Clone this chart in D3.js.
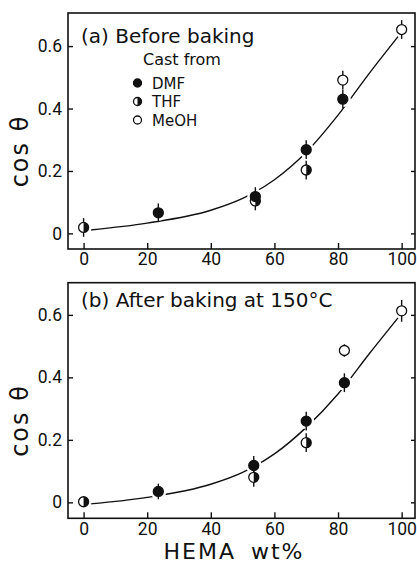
<!DOCTYPE html>
<html>
<head>
<meta charset="utf-8">
<script src="https://cdn.jsdelivr.net/npm/d3@7"></script>
<style>
  body { margin: 0; background: #fff; }
  text { fill: #111; }
</style>
</head>
<body>
<div id="chart"></div>
<script>
// HEMA wt% ticks and cos theta ticks
const xTicks = [0, 20, 40, 60, 80, 100];
const yTicks = [0, 0.2, 0.4, 0.6];

// (a) before baking: [HEMA wt%, cos θ, error]
const dmfA = [[23.5, 0.066, 0.03], [54, 0.118, 0.03], [70, 0.268, 0.03], [81.5, 0.43, 0.03]];
const thfA = [[0, 0.019, 0.03], [54, 0.104, 0.03], [70, 0.203, 0.03]];
const meohA = [[81.5, 0.491, 0.03], [100, 0.653, 0.03]];
const fitA = [[2, 0.011], [20, 0.033], [40, 0.074], [50, 0.112], [60, 0.172], [70, 0.26], [80, 0.379], [90, 0.515], [100, 0.645]];

// (b) after baking at 150 °C
const dmfB = [[23.5, 0.035, 0.025], [53.5, 0.118, 0.03], [70, 0.26, 0.03], [82, 0.383, 0.03]];
const thfB = [[0, 0.002, 0], [53.5, 0.08, 0.03], [70, 0.191, 0.03]];
const meohB = [[82, 0.486, 0.02], [100, 0.613, 0.035]];
const fitB = [[2, -0.005], [20, 0.016], [40, 0.058], [50, 0.096], [60, 0.155], [70, 0.24], [80, 0.347], [90, 0.478], [100, 0.605]];

const W = 417, H = 564;
const R = 5;
const ink = "#111";
const textFont = "DejaVu Sans";
const tickFont = "Roboto";

const svg = d3.select("#chart").append("svg")
    .attr("width", W)
    .attr("height", H);

const x = d3.scaleLinear().domain([-4.9, 104.2]).range([68, 415]);

function drawMarker(g, kind, cx, cy, r) {
    const m = g.append("g").attr("transform", "translate(" + cx + "," + cy + ")");
    m.append("circle")
        .attr("r", r)
        .attr("fill", kind === "dmf" ? ink : "#fff")
        .attr("stroke", ink)
        .attr("stroke-width", 1.3);
    if (kind === "thf") {
        m.append("path")
            .attr("d", "M0," + (-r) + " A" + r + "," + r + " 0 0 1 0," + r + " Z")
            .attr("fill", ink);
    }
}

function drawPanel(opts) {
    const y = d3.scaleLinear().domain(opts.yDomain).range([opts.bottom, opts.top]);
    const g = svg.append("g");

    // frame
    g.append("rect")
        .attr("x", x.range()[0])
        .attr("y", opts.top)
        .attr("width", x.range()[1] - x.range()[0])
        .attr("height", opts.bottom - opts.top)
        .attr("fill", "none")
        .attr("stroke", ink)
        .attr("stroke-width", 1.6);

    const xAxis = d3.axisBottom(x)
        .tickValues(xTicks)
        .tickSizeInner(-6)
        .tickSizeOuter(0)
        .tickPadding(4);
    const yAxis = d3.axisLeft(y)
        .tickValues(yTicks)
        .tickSizeInner(-5)
        .tickSizeOuter(0)
        .tickPadding(6)
        .tickFormat(d => d === 0 ? "0" : d3.format(".1f")(d));
    const yAxisR = d3.axisRight(y)
        .tickValues(yTicks)
        .tickSizeInner(-4)
        .tickSizeOuter(0)
        .tickFormat("");

    const gx = g.append("g")
        .attr("transform", "translate(0," + opts.bottom + ")")
        .call(xAxis);
    const gy = g.append("g")
        .attr("transform", "translate(" + x.range()[0] + ",0)")
        .call(yAxis);
    const gr = g.append("g")
        .attr("transform", "translate(" + x.range()[1] + ",0)")
        .call(yAxisR);

    [gx, gy, gr].forEach(a => {
        a.select(".domain").remove();
        a.selectAll("line").attr("stroke", ink).attr("stroke-width", 1.4);
        a.selectAll("text")
            .attr("fill", ink)
            .style("font-family", tickFont)
            .style("font-size", "17.5px");
    });

    // fitted curve
    const line = d3.line()
        .x(d => x(d[0]))
        .y(d => y(d[1]))
        .curve(d3.curveMonotoneX);
    g.append("path")
        .datum(opts.fit)
        .attr("d", line)
        .attr("fill", "none")
        .attr("stroke", ink)
        .attr("stroke-width", 1.4);

    const series = [
        { kind: "meoh", data: opts.meoh },
        { kind: "thf", data: opts.thf },
        { kind: "dmf", data: opts.dmf }
    ];

    // white halo breaks the curve around the points
    series.forEach(s => {
        s.data.forEach(d => {
            g.append("circle")
                .attr("cx", x(d[0]))
                .attr("cy", y(d[1]))
                .attr("r", R + 3)
                .attr("fill", "#fff");
        });
    });

    // error bars
    series.forEach(s => {
        s.data.forEach(d => {
            if (!d[2]) return;
            g.append("line")
                .attr("x1", x(d[0]))
                .attr("x2", x(d[0]))
                .attr("y1", y(d[1] - d[2]))
                .attr("y2", y(d[1] + d[2]))
                .attr("stroke", ink)
                .attr("stroke-width", 1.4);
        });
    });

    series.forEach(s => {
        s.data.forEach(d => drawMarker(g, s.kind, x(d[0]), y(d[1]), R));
    });

    g.append("text")
        .attr("x", 81)
        .attr("y", opts.titleY)
        .style("font-family", textFont)
        .style("font-size", "20px")
        .text(opts.title);

    g.append("text")
        .attr("transform", "translate(28," + ((opts.top + opts.bottom) / 2 + 20) + ") rotate(-90)")
        .attr("text-anchor", "middle")
        .style("font-family", textFont)
        .style("font-size", "24px")
        .style("letter-spacing", "2px")
        .text("cos θ");

    return g;
}

const gA = drawPanel({
    top: 13, bottom: 249, yDomain: [-0.05, 0.706],
    dmf: dmfA, thf: thfA, meoh: meohA, fit: fitA,
    title: "(a) Before baking", titleY: 43
});

const gB = drawPanel({
    top: 282.7, bottom: 518.3, yDomain: [-0.051, 0.703],
    dmf: dmfB, thf: thfB, meoh: meohB, fit: fitB,
    title: "(b) After baking at 150°C", titleY: 307
});

// legend in panel (a)
gA.append("text")
    .attr("x", 143)
    .attr("y", 65)
    .style("font-family", textFont)
    .style("font-size", "16px")
    .text("Cast from");

const legendItems = [["dmf", "DMF"], ["thf", "THF"], ["meoh", "MeOH"]];
legendItems.forEach((item, i) => {
    const ly = 83 + i * 18.5;
    drawMarker(gA, item[0], 137.5, ly, 4);
    gA.append("text")
        .attr("x", 152)
        .attr("y", ly + 5.5)
        .style("font-family", textFont)
        .style("font-size", "15px")
        .text(item[1]);
});

svg.append("text")
    .attr("x", 234)
    .attr("y", 559)
    .attr("text-anchor", "middle")
    .style("font-family", textFont)
    .style("font-size", "22px")
    .style("letter-spacing", "2px")
    .style("word-spacing", "6px")
    .text("HEMA wt%");
</script>
</body>
</html>
